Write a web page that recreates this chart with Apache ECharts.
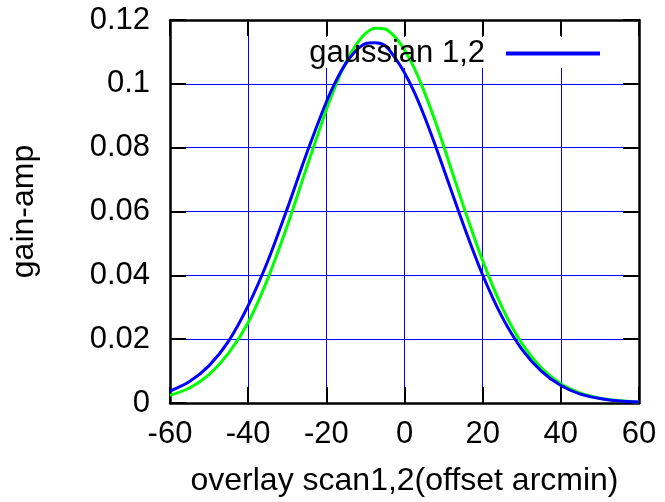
<!DOCTYPE html>
<html>
<head>
<meta charset="utf-8">
<script src="https://cdn.jsdelivr.net/npm/echarts@6/dist/echarts.min.js"></script>
<style>
  html, body { margin: 0; padding: 0; background: #ffffff; }
  #chart { width: 665px; height: 502px; }
</style>
</head>
<body>
<div id="chart"></div>
<script>
// ---- data ----
var offsets = [-60, -55, -50, -45, -40, -35, -30, -25, -20, -17.5, -15, -12.5, -10, -7.5, -5, -2.5, 0, 2.5, 5, 7.5, 10, 15, 20, 25, 30, 35, 40, 45, 50, 55, 60];
var greenGain = [0.0024, 0.0047, 0.0089, 0.0156, 0.0252, 0.0389, 0.0555, 0.0739, 0.0919, 0.0998, 0.1067, 0.1120, 0.1157, 0.1174, 0.1172, 0.1148, 0.1107, 0.1049, 0.0977, 0.0895, 0.0806, 0.0620, 0.0446, 0.0299, 0.0187, 0.0110, 0.0060, 0.0031, 0.0015, 0.0007, 0.0003];
var blueGain  = [0.0037, 0.0067, 0.0117, 0.0194, 0.0305, 0.0444, 0.0609, 0.0783, 0.0943, 0.1010, 0.1064, 0.1103, 0.1126, 0.1129, 0.1120, 0.1083, 0.1035, 0.0974, 0.0901, 0.0820, 0.0734, 0.0561, 0.0401, 0.0269, 0.0169, 0.0100, 0.0055, 0.0028, 0.0014, 0.0006, 0.0003];
var xTicks = [-60, -40, -20, 0, 20, 40, 60];
var yTicks = [0, 0.02, 0.04, 0.06, 0.08, 0.1, 0.12];
var legendName = 'gaussian 1,2';
var xTitle = 'overlay scan1,2(offset arcmin)';
var yTitle = 'gain-amp';

function pairs(xs, ys) { return xs.map(function (x, i) { return [x, ys[i]]; }); }

var FONT = '"Liberation Sans", Arial, Helvetica, sans-serif';
var FS = 31;
var black = '#000000';
var gridBlue = '#0000ff';

var chart = echarts.init(document.getElementById('chart'), null, { renderer: 'canvas' });

var tickStyle = { show: true, inside: true, length: 16, lineStyle: { color: black, width: 2 } };
var lineStyleAxis = { show: true, onZero: false, lineStyle: { color: black, width: 2.5 } };

chart.setOption({
  animation: false,
  backgroundColor: '#ffffff',
  grid: { left: 168, right: 26, top: 20, bottom: 98, containLabel: false },
  legend: {
    data: [legendName],
    right: 60,
    top: 33,
    align: 'right',
    icon: 'rect',
    itemWidth: 94,
    itemHeight: 4,
    textStyle: { fontFamily: FONT, fontSize: FS, color: black, padding: [0, 16, 0, 0] },
    z: 10
  },
  graphic: [{
    type: 'rect',
    shape: { x: 300, y: 37, width: 322, height: 31 },
    style: { fill: '#ffffff' },
    z: 1,
    silent: true
  }],
  xAxis: [{
    type: 'value',
    min: xTicks[0],
    max: xTicks[xTicks.length - 1],
    interval: xTicks[1] - xTicks[0],
    position: 'bottom',
    axisLine: lineStyleAxis,
    axisTick: tickStyle,
    axisLabel: { fontFamily: FONT, fontSize: FS, color: black, margin: 16 },
    splitLine: { show: true, lineStyle: { color: gridBlue, width: 1 } },
    name: xTitle,
    nameLocation: 'middle',
    nameGap: 62,
    nameTextStyle: { fontFamily: FONT, fontSize: 32, color: black }
  }, {
    type: 'value',
    min: xTicks[0],
    max: xTicks[xTicks.length - 1],
    interval: xTicks[1] - xTicks[0],
    position: 'top',
    axisLine: lineStyleAxis,
    axisTick: tickStyle,
    axisLabel: { show: false },
    splitLine: { show: false }
  }],
  yAxis: [{
    type: 'value',
    min: yTicks[0],
    max: yTicks[yTicks.length - 1],
    interval: yTicks[1] - yTicks[0],
    position: 'left',
    axisLine: lineStyleAxis,
    axisTick: tickStyle,
    axisLabel: {
      fontFamily: FONT, fontSize: FS, color: black, margin: 20,
      formatter: function (v) { return String(+v.toFixed(2)); }
    },
    splitLine: { show: true, lineStyle: { color: gridBlue, width: 1 } },
    name: yTitle,
    nameLocation: 'middle',
    nameRotate: 90,
    nameGap: 130,
    nameTextStyle: { fontFamily: FONT, fontSize: 32, color: black }
  }, {
    type: 'value',
    min: yTicks[0],
    max: yTicks[yTicks.length - 1],
    interval: yTicks[1] - yTicks[0],
    position: 'right',
    axisLine: lineStyleAxis,
    axisTick: tickStyle,
    axisLabel: { show: false },
    splitLine: { show: false }
  }],
  series: [{
    name: 'gaussian fit',
    type: 'line',
    xAxisIndex: 0, yAxisIndex: 0,
    data: pairs(offsets, greenGain),
    smooth: 0.3,
    showSymbol: false,
    lineStyle: { color: '#00ff00', width: 3 },
    itemStyle: { color: '#00ff00' },
    z: 3
  }, {
    name: legendName,
    type: 'line',
    xAxisIndex: 0, yAxisIndex: 0,
    data: pairs(offsets, blueGain),
    smooth: 0.3,
    showSymbol: false,
    lineStyle: { color: '#0000ff', width: 3 },
    itemStyle: { color: '#0000ff' },
    z: 4
  }]
});
</script>
</body>
</html>
